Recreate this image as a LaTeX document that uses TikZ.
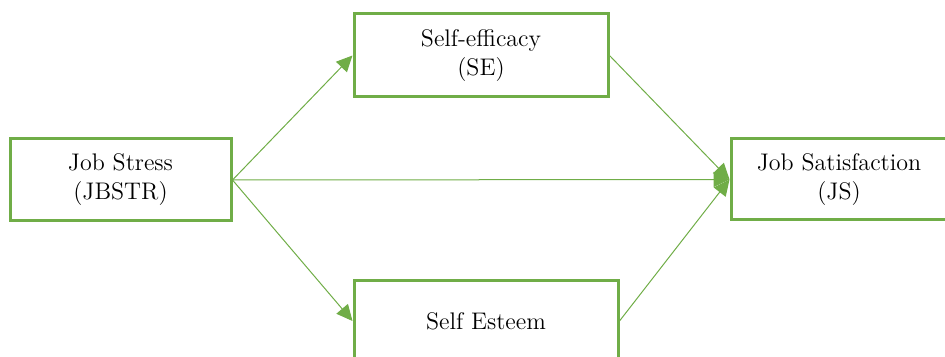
\documentclass[tikz,border=0pt]{standalone}
\usetikzlibrary{arrows.meta}
\definecolor{boxgreen}{RGB}{112,173,71}
\tikzset{
  varbox/.style={draw=boxgreen, line width=1.5pt, rectangle, align=center, inner sep=0pt,
    font=\fontsize{12}{14.5}\selectfont},
  path/.style={draw=boxgreen, line width=0.5pt, -{Triangle[length=8pt, width=7.5pt]}}
}
\begin{document}
\begin{tikzpicture}[x=0.5pt, y=-0.5pt]
    \useasboundingbox (0,0) rectangle (945,357);
    \clip (0,0) rectangle (945,357);

    % Job Stress
    \node[varbox, minimum width=110.5pt, minimum height=41pt] (jbstr) at (120.5,180) {Job Stress\\(JBSTR)};

    % Self-efficacy
    \node[varbox, minimum width=127pt, minimum height=41.5pt] (se) at (481,55.5) {Self-efficacy\\(SE)};

    % Self Esteem
    \node[varbox, minimum width=132pt, minimum height=41pt] (ses) at (486,321) {Self Esteem};

    % Job Satisfaction
    \node[varbox, minimum width=108pt, minimum height=40.5pt] (js) at (839,179.5) {Job Satisfaction\\(JS)};

    % Connections
    \draw[path] (jbstr.east) -- (se.west);
    \draw[path] (jbstr.east) -- (ses.west);
    \draw[path] (jbstr.east) -- (js.west);
    \draw[path] (se.east) -- (js.west);
    \draw[path] (ses.east) -- (js.west);
\end{tikzpicture}
\end{document}
